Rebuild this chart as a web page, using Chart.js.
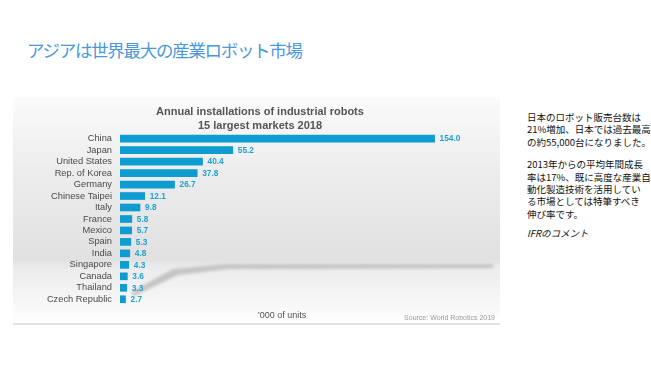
<!DOCTYPE html>
<html lang="ja">
<head>
<meta charset="UTF-8" />
<title>アジアは世界最大の産業ロボット市場</title>
<script src="https://cdn.jsdelivr.net/npm/chart.js"></script>
<style>
  body { margin: 0; width: 651px; height: 366px; background: #fff; position: relative; overflow: hidden; font-family: "Liberation Sans", Arial, sans-serif; }
  h1 { position: absolute; left: 27px; top: 37px; margin: 0; font: 17.5px "Noto Sans CJK JP", sans-serif; color: #4a98dc; letter-spacing: -1.3px; }
  .panel { position: absolute; left: 13px; top: 97px; width: 487px; height: 226px;
    background: linear-gradient(to bottom, #fbfbfb 0%, #ececec 35%, #e1e1e1 72%, #ececec 76%, #fafafa 95%, #ffffff 100%);
    border-bottom: 2px solid #e2e2e2; }
  .panel svg { position: absolute; left: 0; top: 0; }
  .chartbox { position: absolute; left: 0; top: 0; width: 487px; height: 226px; }
  .units { position: absolute; left: 245px; top: 213px; font-size: 9px; color: #555; }
  .source { position: absolute; right: 5px; top: 217px; font-size: 7px; color: #9a9a9a; }
  .side { position: absolute; left: 527px; top: 111px; width: 124px; font: 9.5px/12.4px "Noto Sans CJK JP", sans-serif; color: #111; }
  .side p { margin: 0 0 10px 0; }
  .side p.mid { margin-bottom: 7px; }
  .side i { font-style: italic; }
</style>
</head>
<body>
<h1>アジアは世界最大の産業ロボット市場</h1>

<div class="panel">
  <svg width="487" height="226">
    <defs><filter id="b"><feGaussianBlur stdDeviation="1.8"/></filter></defs>
    <polygon points="118,195 160,172 215,167 480,167 480,171 215,172 165,178 121,199" fill="#c4c4c4" filter="url(#b)"/>
  </svg>
  <div class="chartbox"><canvas id="chart"></canvas></div>
  <div class="units">'000 of units</div>
  <div class="source">Source: World Robotics 2019</div>
</div>

<div class="side">
  <p>日本のロボット販売台数は<br>21%増加、日本では過去最高<br>の約55,000台になりました。</p>
  <p class="mid">2013年からの平均年間成長<br>率は17%、既に高度な産業自<br>動化製造技術を活用してい<br>る市場としては特筆すべき<br>伸び率です。</p>
  <p><i>IFRのコメント</i></p>
</div>

<script>
  const countries = ['China', 'Japan', 'United States', 'Rep. of Korea', 'Germany', 'Chinese Taipei',
    'Italy', 'France', 'Mexico', 'Spain', 'India', 'Singapore', 'Canada', 'Thailand', 'Czech Republic'];
  const installs = [154.0, 55.2, 40.4, 37.8, 26.7, 12.1, 9.8, 5.8, 5.7, 5.3, 4.8, 4.3, 3.6, 3.3, 2.7];
  const chartTitle = ['Annual installations of industrial robots', '15 largest markets 2018'];

  // value labels at the end of each bar
  const valueLabels = {
    id: 'valueLabels',
    afterDatasetsDraw(chart) {
      const ctx = chart.ctx;
      const meta = chart.getDatasetMeta(0);
      ctx.save();
      ctx.font = 'bold 8.3px "Liberation Sans", Arial, sans-serif';
      ctx.fillStyle = '#1ea2d2';
      ctx.textBaseline = 'middle';
      meta.data.forEach((bar, i) => {
        ctx.fillText(installs[i].toFixed(1), bar.x + 5, bar.y + 0.5);
      });
      ctx.restore();
    }
  };

  new Chart(document.getElementById('chart'), {
    type: 'bar',
    data: {
      labels: countries,
      datasets: [{
        data: installs,
        backgroundColor: '#0d9dd0',
        barThickness: 7
      }]
    },
    options: {
      indexAxis: 'y',
      responsive: true,
      maintainAspectRatio: false,
      animation: false,
      layout: { padding: { top: 0, bottom: 18, left: 7, right: 0 } },
      plugins: {
        legend: { display: false },
        tooltip: { enabled: false },
        title: {
          display: true,
          text: chartTitle,
          color: '#555',
          font: { family: '"Liberation Sans", Arial, sans-serif', size: 11, weight: 'bold', lineHeight: 1.27 },
          padding: { top: 8, bottom: 0 }
        }
      },
      scales: {
        x: { display: false, min: 0, max: 186 },
        y: {
          grid: { display: false, drawTicks: false },
          border: { display: false },
          afterFit(scale) { scale.width = 100; },
          ticks: {
            autoSkip: false,
            color: '#4a4a4a',
            padding: 8,
            font: { family: '"Liberation Sans", Arial, sans-serif', size: 9.3 }
          }
        }
      }
    },
    plugins: [valueLabels]
  });
</script>
</body>
</html>
